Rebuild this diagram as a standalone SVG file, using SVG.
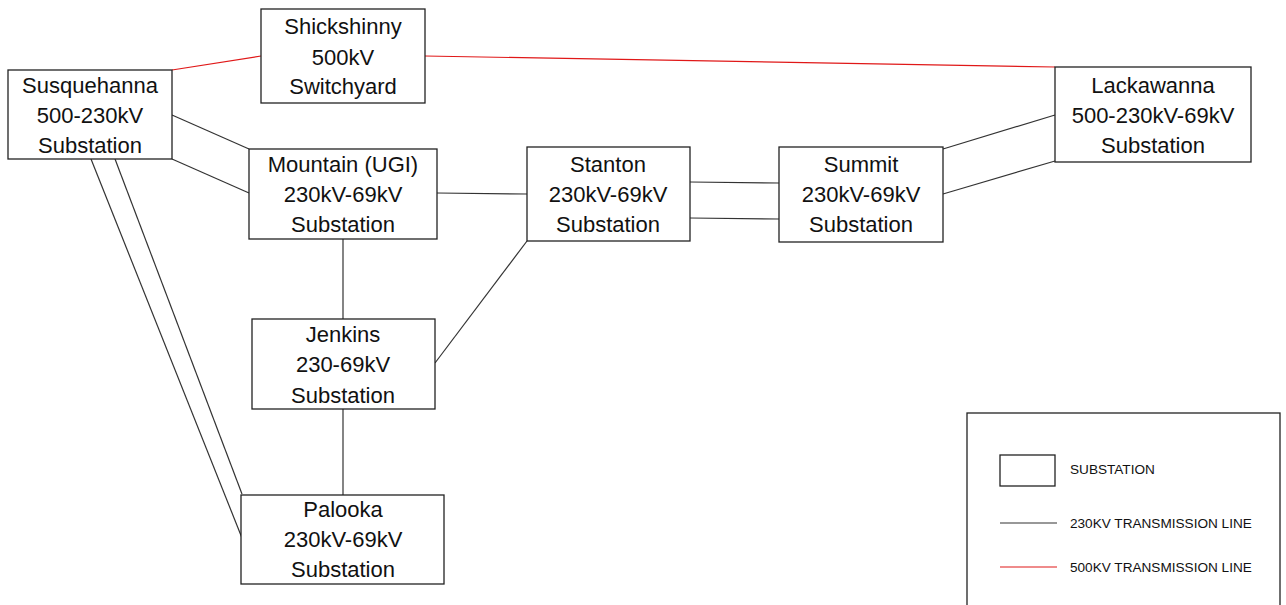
<svg xmlns="http://www.w3.org/2000/svg" width="1286" height="605" viewBox="0 0 1286 605">
<style>
.box{fill:#fff;stroke:#222;stroke-width:1.3}
.lbl{font-family:"Liberation Sans",Arial,sans-serif;font-size:22px;fill:#111;text-anchor:middle}
.leg{font-family:"Liberation Sans",Arial,sans-serif;font-size:13.6px;fill:#111}
.l230{stroke:#333;stroke-width:1.2;fill:none}
.l500{stroke:#e01818;stroke-width:1.2;fill:none}
</style>
<rect width="1286" height="605" fill="#fff"/>
<g id="connectors">
<line class="l500" x1="172" y1="70" x2="261" y2="56"/>
<line class="l500" x1="425" y1="56" x2="1055" y2="67"/>
<line class="l230" x1="172" y1="115" x2="249" y2="149"/>
<line class="l230" x1="172" y1="159" x2="249" y2="193"/>
<line class="l230" x1="91" y1="159" x2="242" y2="538"/>
<line class="l230" x1="115" y1="159" x2="242" y2="494"/>
<line class="l230" x1="343" y1="239" x2="343" y2="319"/>
<line class="l230" x1="343" y1="409" x2="343" y2="495"/>
<line class="l230" x1="435" y1="363" x2="527" y2="241"/>
<line class="l230" x1="437" y1="193" x2="527" y2="194"/>
<line class="l230" x1="690" y1="182" x2="779" y2="183"/>
<line class="l230" x1="690" y1="218" x2="779" y2="219"/>
<line class="l230" x1="943" y1="149" x2="1055" y2="115"/>
<line class="l230" x1="943" y1="194" x2="1055" y2="161"/>
</g>
<g id="shickshinny">
<rect class="box" x="261" y="9" width="164" height="94"/>
<text class="lbl" x="343" y="34">Shickshinny</text>
<text class="lbl" x="343" y="65">500kV</text>
<text class="lbl" x="343" y="94">Switchyard</text>
</g>
<g id="susquehanna">
<rect class="box" x="8" y="70" width="164" height="89"/>
<text class="lbl" x="90" y="93">Susquehanna</text>
<text class="lbl" x="90" y="123">500-230kV</text>
<text class="lbl" x="90" y="153">Substation</text>
</g>
<g id="mountain">
<rect class="box" x="249" y="149" width="188" height="90"/>
<text class="lbl" x="343" y="172">Mountain (UGI)</text>
<text class="lbl" x="343" y="202">230kV-69kV</text>
<text class="lbl" x="343" y="232">Substation</text>
</g>
<g id="jenkins">
<rect class="box" x="252" y="319" width="183" height="90"/>
<text class="lbl" x="343" y="342">Jenkins</text>
<text class="lbl" x="343" y="372">230-69kV</text>
<text class="lbl" x="343" y="403">Substation</text>
</g>
<g id="palooka">
<rect class="box" x="241" y="495" width="203" height="89"/>
<text class="lbl" x="343" y="517">Palooka</text>
<text class="lbl" x="343" y="547">230kV-69kV</text>
<text class="lbl" x="343" y="577">Substation</text>
</g>
<g id="stanton">
<rect class="box" x="527" y="147" width="163" height="94"/>
<text class="lbl" x="608" y="172">Stanton</text>
<text class="lbl" x="608" y="202">230kV-69kV</text>
<text class="lbl" x="608" y="232">Substation</text>
</g>
<g id="summit">
<rect class="box" x="779" y="147" width="164" height="95"/>
<text class="lbl" x="861" y="172">Summit</text>
<text class="lbl" x="861" y="202">230kV-69kV</text>
<text class="lbl" x="861" y="232">Substation</text>
</g>
<g id="lackawanna">
<rect class="box" x="1055" y="67" width="196" height="95"/>
<text class="lbl" x="1153" y="93">Lackawanna</text>
<text class="lbl" x="1153" y="123">500-230kV-69kV</text>
<text class="lbl" x="1153" y="153">Substation</text>
</g>
<g id="legend">
<rect class="box" x="967" y="413" width="313" height="200"/>
<rect class="box" x="1000" y="455" width="55" height="31"/>
<text class="leg" x="1070" y="474">SUBSTATION</text>
<line class="l230" x1="1000" y1="523" x2="1057" y2="523"/>
<text class="leg" x="1070" y="528">230KV TRANSMISSION LINE</text>
<line class="l500" x1="1000" y1="567" x2="1057" y2="567"/>
<text class="leg" x="1070" y="572">500KV TRANSMISSION LINE</text>
</g>
</svg>
